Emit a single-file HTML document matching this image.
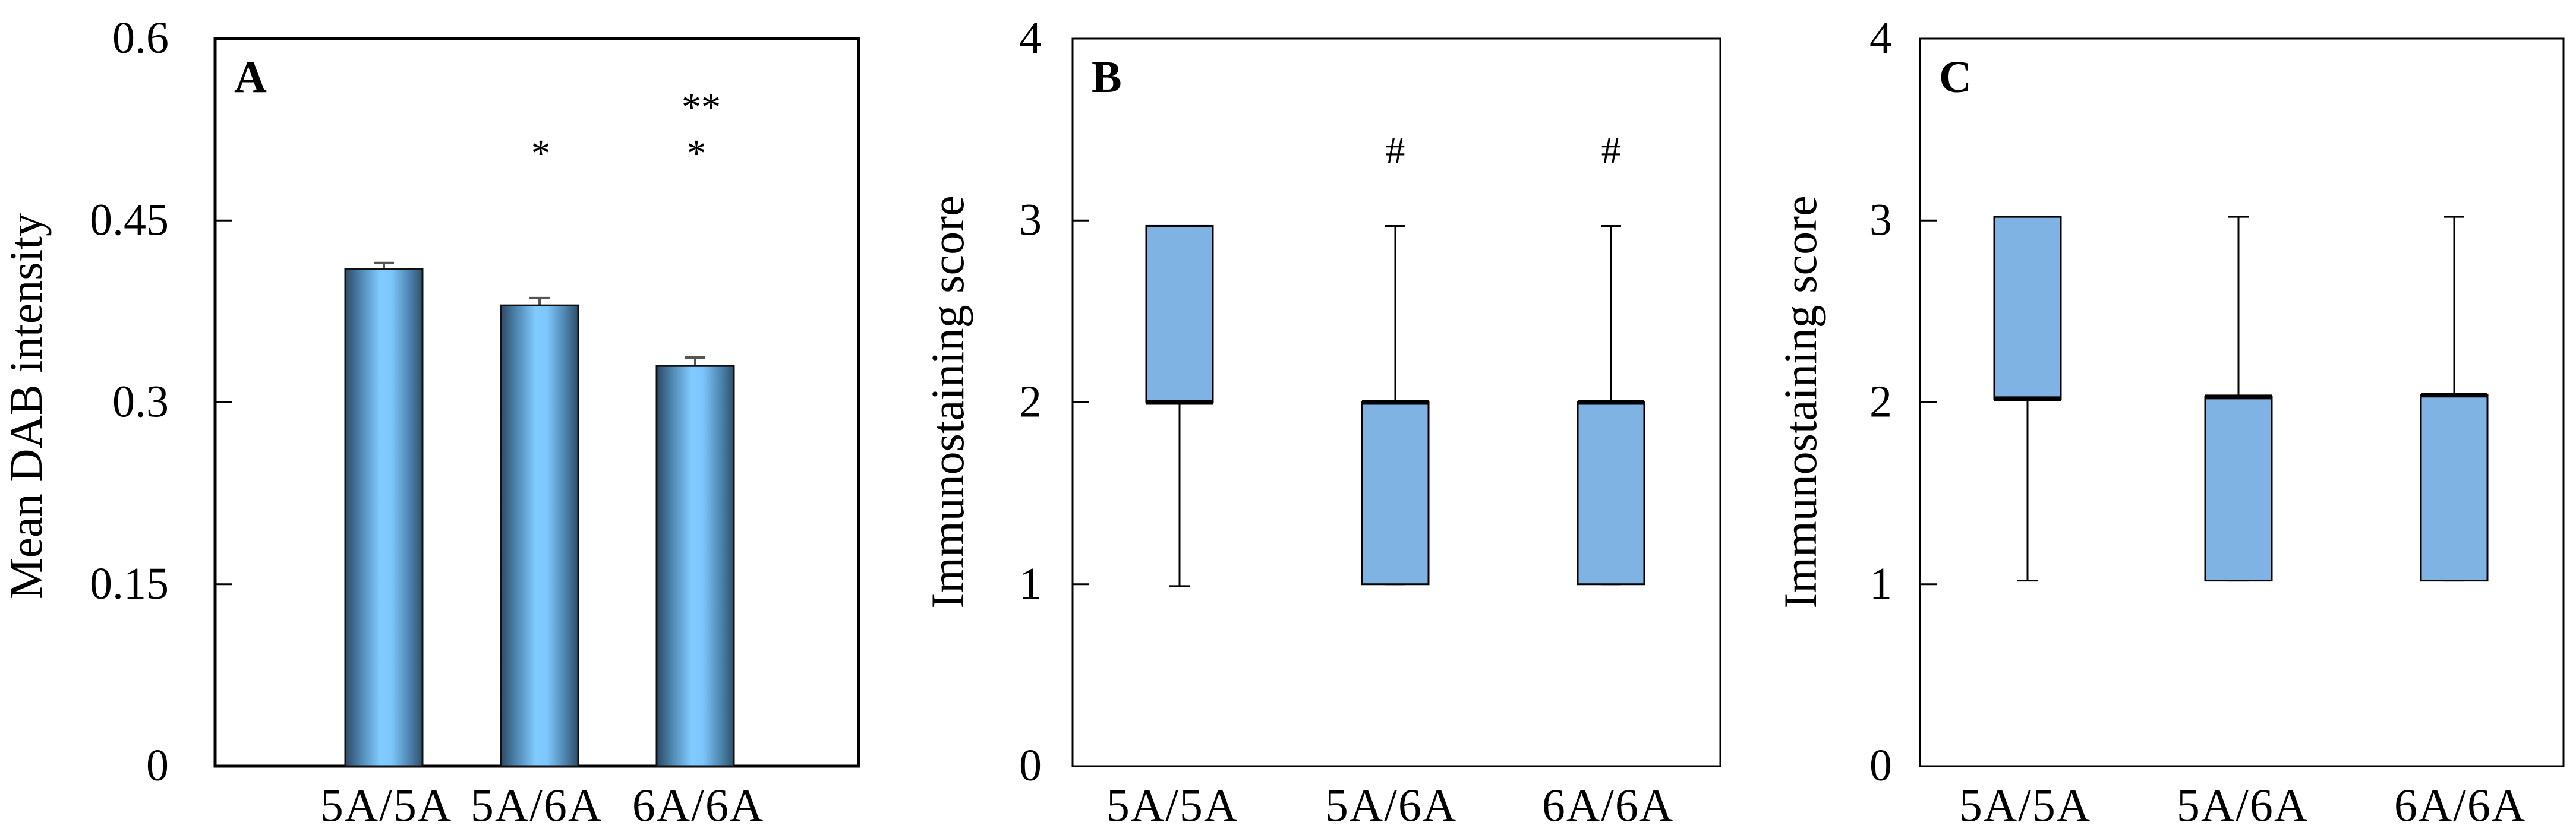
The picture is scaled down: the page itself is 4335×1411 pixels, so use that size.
<!DOCTYPE html>
<html><head><meta charset="utf-8"><style>
html,body{margin:0;padding:0;background:#fff;}
svg{display:block;font-family:"Liberation Serif",serif;}
</style></head><body>
<svg id="fig" width="4335" height="1411" viewBox="0 0 4335 1411" xmlns="http://www.w3.org/2000/svg">
<defs>
<linearGradient id="barGrad" x1="0" x2="1" y1="0" y2="0">
<stop offset="0" stop-color="#2c4a66"/><stop offset="0.2" stop-color="#4f86b0"/>
<stop offset="0.45" stop-color="#80cbff"/><stop offset="0.6" stop-color="#7cc6fb"/>
<stop offset="0.85" stop-color="#4a7fa8"/><stop offset="1" stop-color="#2f4f6a"/>
</linearGradient>
</defs>
</svg>
<script>
const NS='http://www.w3.org/2000/svg';
const svg=document.getElementById('fig');
// Panel A data
const categories=['5A/5A','5A/6A','6A/6A'];
const barValues=[0.41,0.38,0.33];
const barErrors=[0.005,0.006,0.007];
const aTicks=[0,0.15,0.3,0.45,0.6];
const aTickLabels=['0','0.15','0.3','0.45','0.6'];
const aSig=['','*','*\n**'];
// Panel B data
const bQ1=[2,1,1];
const bMedian=[2,2,2];
const bQ3=[2.97,2,2];
const bMin=[0.99,1,1];
const bMax=[2.97,2.97,2.97];
const bSig=['','#','#'];
// Panel C data
const cQ1=[2.02,1.02,1.02];
const cMedian=[2.02,2.03,2.04];
const cQ3=[3.02,2.03,2.04];
const cMin=[1.02,1.02,1.02];
const cMax=[3.02,3.02,3.02];
const boxTicks=[0,1,2,3,4];

function el(tag,attrs,parent){const e=document.createElementNS(NS,tag);for(const k in attrs)e.setAttribute(k,attrs[k]);(parent||svg).appendChild(e);return e;}
function txt(s,attrs,parent){const t=el('text',attrs,parent);t.textContent=s;return t;}

const TOP=65,BOT=1290;
function panel(cfg){
  const g=el('g',{});
  
  
  const y=v=>BOT-(v-cfg.ymin)/(cfg.ymax-cfg.ymin)*(BOT-TOP);
  const fr=el('rect',{x:cfg.L,y:TOP,width:cfg.R-cfg.L,height:BOT-TOP,fill:'none',stroke:'#000','stroke-width':cfg.axisW},g);
  
  
  cfg.ticks.forEach((t,i)=>{
    const yy=y(t);
    if(i>0&&i<cfg.ticks.length-1){const tk=el('line',{x1:cfg.L,x2:cfg.L+28,y1:yy,y2:yy,stroke:'#000','stroke-width':3},g);
      }
    const lb=txt(cfg.tickLabels[i],{x:cfg.tickX,y:yy+24,'text-anchor':'end','font-size':76},g);
    
    
  });
  const yt=txt(cfg.title,{x:0,y:0,'text-anchor':'middle','font-size':78,transform:`translate(${cfg.titleX},${cfg.titleY}) rotate(-90)`},g);
  
  
  const lt=txt(cfg.letter,{x:cfg.L+32,y:155,'font-size':76,'font-weight':'bold'},g);
  
  
  categories.forEach((c,i)=>{
    const xl=txt(c,{x:cfg.labelX[i],y:1382,'text-anchor':'middle','font-size':78,'letter-spacing':2},g);
    
    
  });
  return {g,y};
}

// Panel A
(function(){
  const centers=[646,908,1170];
  const p=panel({letter:'A',L:362,R:1445,ymin:0,ymax:0.6,axisW:5,ticks:aTicks,tickLabels:aTickLabels,tickX:284,title:'Mean DAB intensity',titleX:70,titleY:684,labelX:[650,903,1175]});
  barValues.forEach((v,i)=>{
    const cx=centers[i],w=130;
    const eb=el('path',{d:`M${cx} ${p.y(v)} V${p.y(v+barErrors[i])} M${cx-17} ${p.y(v+barErrors[i])} H${cx+17}`,stroke:'#555','stroke-width':4,fill:'none'},p.g);
    
    
    const b=el('rect',{x:cx-w/2,y:p.y(v),width:w,height:p.y(0)-p.y(v),fill:'url(#barGrad)',stroke:'#111','stroke-width':3},p.g);
    
    
    const lines=aSig[i]?aSig[i].split('\n'):[];
    lines.forEach((s,j)=>{
      const t=txt(s,{x:cx+(s.length>1?10:2),y:280-j*78,'text-anchor':'middle','font-size':66},p.g);
      
      
    });
  });
})();

function boxPanel(letter,L,R,centers,labelX,tickX,titleX,q1,med,q3,mn,mx,sig){
  const p=panel({letter,L,R,ymin:0,ymax:4,axisW:3,ticks:boxTicks,tickLabels:boxTicks.map(String),tickX,title:'Immunostaining score',titleX,titleY:677,labelX});
  centers.forEach((cx,i)=>{
    const w=112;
    const wh=el('path',{d:`M${cx} ${p.y(mn[i])} V${p.y(mx[i])} M${cx-17} ${p.y(mn[i])} H${cx+17} M${cx-17} ${p.y(mx[i])} H${cx+17}`,stroke:'#000','stroke-width':3,fill:'none'},p.g);
    
    
    const top=Math.max(q3[i],q1[i]),bot=Math.min(q3[i],q1[i]);
    const bx=el('rect',{x:cx-w/2,y:p.y(top),width:w,height:Math.max(p.y(bot)-p.y(top),0),fill:'#7fb3e3',stroke:'#000','stroke-width':3},p.g);
    
    
    const md=el('line',{x1:cx-w/2,x2:cx+w/2,y1:p.y(med[i]),y2:p.y(med[i]),stroke:'#000','stroke-width':8},p.g);
    
    
    if(sig&&sig[i]){
      const t=txt(sig[i],{x:cx,y:275,'text-anchor':'middle','font-size':66},p.g);
      
      
    }
  });
}
boxPanel('B',1805,2895,[1985,2348,2711],[1973,2341,2706],1753,1621,bQ1,bMedian,bQ3,bMin,bMax,bSig);
boxPanel('C',3231,4314,[3412,3767,4130],[3408,3774,4140],3184,3056,cQ1,cMedian,cQ3,cMin,cMax,null);
</script>
</body></html>
